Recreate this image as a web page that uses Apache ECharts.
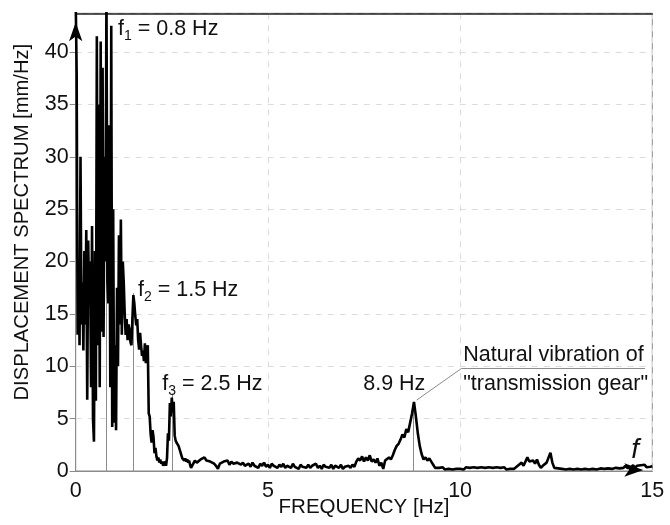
<!DOCTYPE html>
<html>
<head>
<meta charset="utf-8">
<script src="https://cdn.jsdelivr.net/npm/echarts@6/dist/echarts.min.js"></script>
<style>
  html, body { margin: 0; padding: 0; background: #fff; }
  #chart { width: 670px; height: 525px; }
</style>
</head>
<body>
<div id="chart"></div>
<script>
// low band 0 .. 3.0 Hz, sampled every 0.025 Hz
const LOW_STEP = 0.025;
const lowBand = [
  45, 38, 13, 20, 12, 30, 14, 18, 11.5, 21,
  14, 23, 6.8, 22, 16, 20, 8, 23.4, 5, 2.8,
  21, 6.7, 41.5, 12, 35, 8, 41, 13.3, 38.5, 12.8,
  30, 20, 46, 18, 16, 33, 8, 42.5, 4.2, 25,
  4.6, 12, 3.9, 17.5, 10, 22.5, 14, 24, 13, 20,
  18, 15, 13, 14.5, 12.5, 14, 13.5, 12.3, 12, 14.5,
  16.8, 16, 14.8, 13.9, 14.5, 12.5, 11.6, 13.2, 12, 11,
  11.5, 10.5, 12.2, 10.3, 11.5, 12, 5.5, 5.2, 3.5, 2.7,
  3.9, 3.2, 1.7, 2.2, 1.4, 1.0, 1.3, 0.8, 1.1, 0.7,
  0.9, 0.5, 0.6, 0.9, 0.5, 1.2, 3.6, 2.9, 6.5, 5.2,
  7.0, 5.6, 6.6, 3.4, 2.9, 2.7, 2.6, 2.4, 2.3, 1.8,
  1.5, 1.2, 1.3, 1.0, 1.2, 0.9, 1.1, 0.8, 1.0, 0.6,
  0.3
];

// high band 3.05 .. 15.0 Hz, sampled every 0.05 Hz
const HIGH_START = 3.05;
const HIGH_STEP = 0.05;
const highBand = [
  0.2, 1.0, 0.8, 0.9, 1.1, 1.2, 1.3, 1.0, 1.1, 0.9, 1.0, 0.7, 0.5, 0.2, 0.7, 0.6, 0.9, 0.8, 1.0, 0.6,
  0.9, 0.7, 0.6, 0.8, 0.9, 0.6, 0.8, 0.5, 0.45, 0.7, 0.4, 0.8, 0.5, 0.6, 0.3, 0.7, 0.5, 0.8, 0.4, 0.6,
  0.3, 0.7, 0.5, 0.6, 0.3, 0.6, 0.4, 0.7, 0.3, 0.5, 0.6, 0.3, 0.7, 0.4, 0.5, 0.2, 0.6, 0.4, 0.5, 0.3,
  0.6, 0.3, 0.5, 0.4, 0.7, 0.3, 0.5, 0.2, 0.6, 0.4, 0.5, 0.3, 0.6, 0.2, 0.5, 0.4, 0.3, 0.6, 0.2, 0.4,
  0.3, 0.5, 0.3, 0.6, 0.4, 0.9, 1.2, 1.0, 1.4, 0.9, 1.3, 1.0, 1.5, 0.9, 1.1, 0.8, 1.2, 0.5, 0.8, 0.2,
  1.0, 0.9, 1.3, 1.1, 1.5, 2.0, 2.4, 2.6, 3.0, 3.5, 3.2, 4.0, 3.7, 4.6, 5.5, 6.6, 5.2, 3.6, 2.4, 1.6,
  1.1, 1.3, 1.0, 1.2, 0.9, 0.6, 0.3, 0.15, 0.3, 0.2, 0.35, 0.15, 0.3, 0.2, 0.35, 0.15, 0.3, 0.2, 0.35, 0.2,
  0.3, 0.15, 0.35, 0.2, 0.3, 0.15, 0.35, 0.2, 0.3, 0.15, 0.35, 0.2, 0.3, 0.15, 0.35, 0.2, 0.3, 0.15, 0.35, 0.2,
  0.3, 0.2, 0.35, 0.15, 0.3, 0.2, 0.35, 0.2, 0.3, 0.5, 0.4, 0.8, 0.5, 0.6, 1.3, 0.9, 0.8, 1.0, 0.7, 1.1,
  0.6, 0.3, 0.5, 0.6, 0.8, 0.7, 1.75, 0.8, 0.3, 0.4, 0.25, 0.35, 0.2, 0.3, 0.15, 0.3, 0.2, 0.35, 0.15, 0.3,
  0.2, 0.35, 0.15, 0.3, 0.2, 0.35, 0.15, 0.3, 0.2, 0.35, 0.15, 0.3, 0.25, 0.4, 0.2, 0.35, 0.25, 0.4, 0.2, 0.35,
  0.3, 0.45, 0.25, 0.4, 0.3, 0.5, 0.3, 0.45, 0.35, 0.55, 0.3, 0.5, 0.35, 0.55, 0.4, 0.6, 0.35, 0.5, 0.4, 0.45
];

const yMax = 43.7;

// marked peaks: [frequency, height of the guide line]
const peakGuides = [[0.8, yMax], [1.5, 17], [2.5, 7.4], [8.78, 6.6]];

// text notes: [text, x, y]
const notes = [
  ['{t|f}{s|1}{t| = 0.8 Hz}', 1.1, 42.2],
  ['{t|f}{s|2}{t| = 1.5 Hz}', 1.62, 17.3],
  ['{t|f}{s|3}{t| = 2.5 Hz}', 2.25, 8.3],
  ['{t|8.9 Hz}', 7.48, 8.3],
  ['{t|Natural vibration of}', 10.08, 11.1],
  ['{t|"transmission gear"}', 10.08, 8.3],
  ['{i|f}', 14.45, 2.0]
];

const spectrum = lowBand.map((v, i) => [+(i * LOW_STEP).toFixed(3), v])
  .concat(highBand.map((v, i) => [+(HIGH_START + i * HIGH_STEP).toFixed(3), v]));

const FONT = '"Liberation Sans", Arial, sans-serif';
const chart = echarts.init(document.getElementById('chart'));

const guideLines = peakGuides.map(p => [{ coord: [p[0], 0] }, { coord: [p[0], p[1]] }]);
// leader line for the "transmission gear" note
guideLines.push([{ coord: [8.87, 6.77] }, { coord: [10.04, 9.8] }]);
guideLines.push([{ coord: [10.04, 9.8] }, { coord: [14.81, 9.8] }]);

const rich = {
  t: { fontSize: 21.5, color: '#111', fontFamily: FONT, lineHeight: 24 },
  s: { fontSize: 14, color: '#111', fontFamily: FONT, lineHeight: 29, verticalAlign: 'bottom' },
  i: { fontSize: 28, color: '#111', fontFamily: FONT, fontStyle: 'italic' }
};

chart.setOption({
  backgroundColor: '#fff',
  animation: false,
  grid: {
    left: 75.7, right: 17.7, top: 13.3, bottom: 54,
    outerBoundsMode: 'none',
    containLabel: false,
    show: true, borderColor: '#8a8a8a', borderWidth: 1
  },
  xAxis: [{
    type: 'value', min: 0, max: 15, interval: 5,
    name: 'FREQUENCY [Hz]', nameLocation: 'middle', nameGap: 26, nameMoveOverlap: false,
    nameTextStyle: { fontSize: 20.5, color: '#111', fontFamily: FONT },
    axisLine: { lineStyle: { color: '#8a8a8a', width: 1 } },
    axisTick: { show: false },
    axisLabel: { fontSize: 21.5, color: '#111', fontFamily: FONT, margin: 9 },
    splitLine: { show: true, lineStyle: { color: '#dcdcdc', type: [6, 6] } }
  }, {
    type: 'value', min: 0, max: 15, position: 'top',
    axisLine: { show: true, lineStyle: { color: '#222', width: 1.5 } },
    axisTick: { show: false }, axisLabel: { show: false }, splitLine: { show: false }
  }],
  yAxis: {
    type: 'value', min: 0, max: yMax, interval: 5,
    name: 'DISPLACEMENT SPECTRUM [mm/Hz]', nameLocation: 'middle', nameGap: 43, nameMoveOverlap: false,
    nameTextStyle: { fontSize: 20.2, color: '#111', fontFamily: FONT, padding: [0, 0, 0, 40] },
    axisLine: { show: true, lineStyle: { color: '#8a8a8a', width: 1 } },
    axisTick: { show: true, length: 6, lineStyle: { color: '#8a8a8a' } },
    axisLabel: { fontSize: 21.5, color: '#111', fontFamily: FONT, margin: 7, showMaxLabel: false },
    splitLine: { show: true, lineStyle: { color: '#dcdcdc', type: [6, 6] } }
  },
  series: [{
    type: 'line',
    data: [],
    z: 1,
    markLine: {
      silent: true, symbol: 'none', animation: false,
      label: { show: false },
      lineStyle: { color: '#8c8c8c', width: 1, type: 'solid' },
      data: guideLines
    }
  }, {
    name: 'spectrum',
    type: 'line',
    data: spectrum,
    z: 10,
    showSymbol: false,
    clip: true,
    lineStyle: { color: '#000', width: 2.6 },
    markPoint: {
      silent: true, animation: false,
      symbol: 'arrow',
      itemStyle: { color: '#000' },
      label: { show: false },
      data: [
        { coord: [0, yMax], symbolSize: [10, 19], symbolOffset: [0, 9] },
        { coord: [15, 0], symbolSize: [10, 19], symbolRotate: -90, symbolOffset: [-9, -1] }
      ]
    }
  }, {
    type: 'line',
    data: [],
    markPoint: {
      silent: true, animation: false,
      symbol: 'circle', symbolSize: 0,
      label: { show: true, position: 'right', distance: 0, rich: rich },
      data: notes.map(n => ({ coord: [n[1], n[2]], value: n[0], label: { formatter: n[0] } }))
    }
  }]
});
</script>
</body>
</html>
